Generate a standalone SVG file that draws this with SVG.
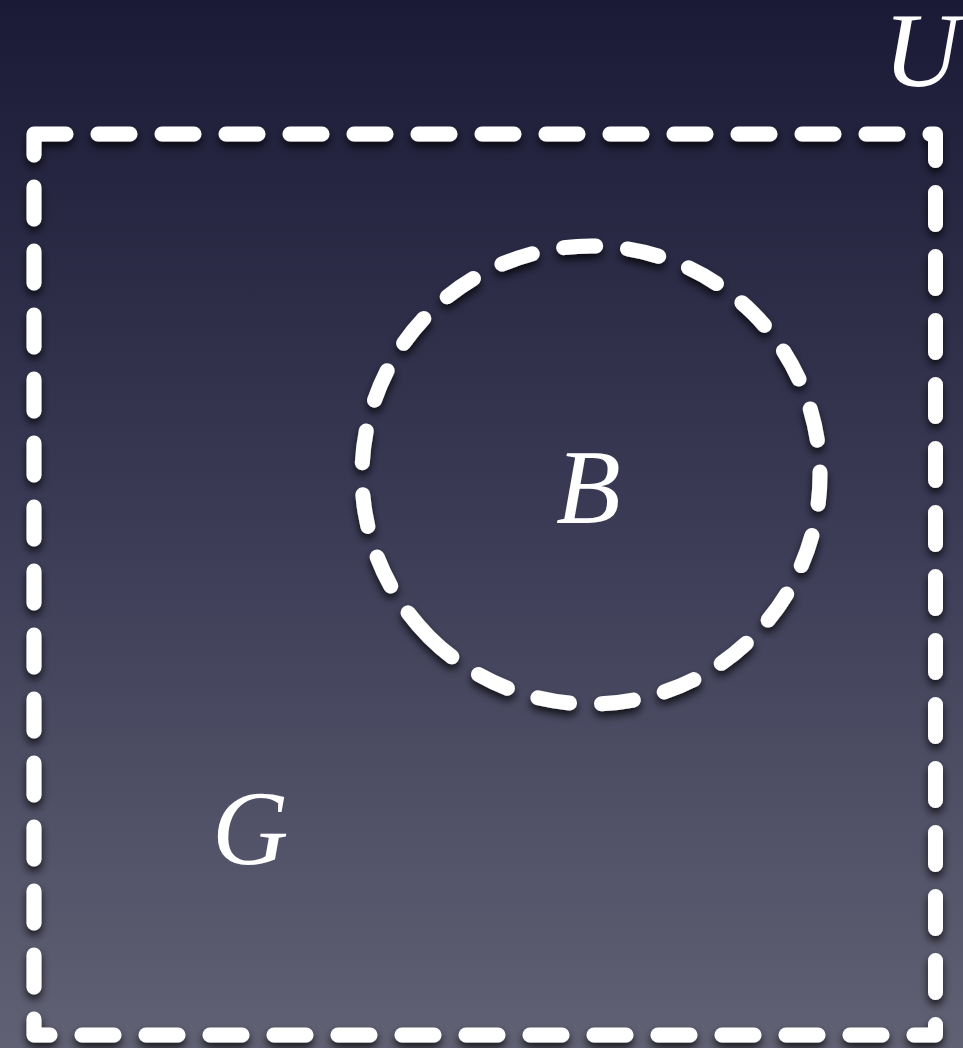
<svg xmlns="http://www.w3.org/2000/svg" width="963" height="1048" viewBox="0 0 963 1048">
  <defs>
    <linearGradient id="bg" x1="0" y1="0" x2="0" y2="1">
      <stop offset="0" stop-color="#1b1a36"/>
      <stop offset="0.5" stop-color="#3b3b56"/>
      <stop offset="1" stop-color="#616174"/>
    </linearGradient>
    <filter id="sh" x="-10%" y="-10%" width="120%" height="120%">
      <feDropShadow dx="0" dy="5" stdDeviation="4" flood-color="#000" flood-opacity="0.75"/>
    </filter>
  </defs>
  <style>
    .dash { fill: none; stroke: #ffffff; stroke-width: 15; stroke-dasharray: 32 32; stroke-linecap: round; stroke-linejoin: round; filter: url(#sh); }
    .lbl { font-family: "Liberation Serif", "Times New Roman", serif; font-style: italic; font-size: 106px; fill: #ffffff; }
  </style>
  <rect x="0" y="0" width="963" height="1048" fill="url(#bg)"/>
  <g id="set-G">
    <path class="dash" d="M34 134 H935.5 V1035 H34 Z"/>
    <text class="lbl" x="212" y="864">G</text>
  </g>
  <g id="label-U">
    <text class="lbl" x="960" y="86" text-anchor="end">U</text>
  </g>
  <g id="set-B">
    <path class="dash" d="M429.07 636.93 A229 229 0 0 1 752.93 313.07 A229 229 0 0 1 429.07 636.93 Z"/>
    <text class="lbl" x="556" y="523">B</text>
  </g>
  <g id="connectors"/>
</svg>
